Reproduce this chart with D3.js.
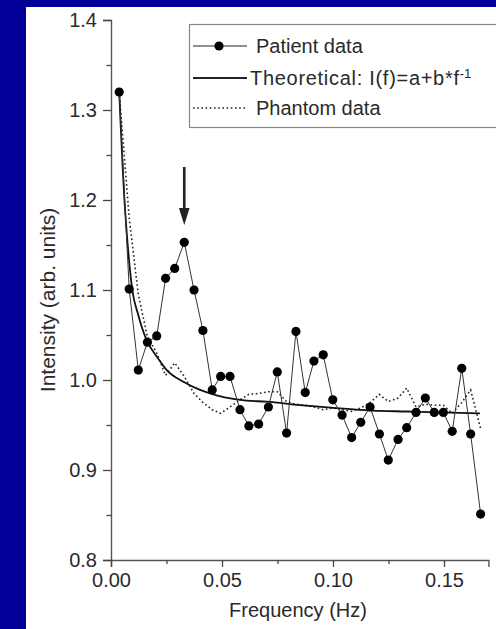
<!DOCTYPE html>
<html>
<head>
<meta charset="utf-8">
<script src="https://cdn.jsdelivr.net/npm/d3@7"></script>
<style>
  html, body { margin: 0; padding: 0; background: #000099; }
  svg { display: block; }
</style>
</head>
<body>
<div id="chart"></div>
<script>
const freq = [0.0037, 0.0082, 0.0123, 0.0164, 0.0206, 0.0246, 0.0287, 0.0330, 0.0374, 0.0414,
              0.0456, 0.0494, 0.0536, 0.0581, 0.0621, 0.0665, 0.0709, 0.0749, 0.0791, 0.0833,
              0.0875, 0.0914, 0.0956, 0.0999, 0.1041, 0.1084, 0.1125, 0.1167, 0.1209, 0.1249,
              0.1293, 0.1332, 0.1374, 0.1416, 0.1456, 0.1497, 0.1537, 0.1580, 0.1620, 0.1665];

const patient = [1.320, 1.101, 1.011, 1.042, 1.049, 1.113, 1.124, 1.153, 1.100, 1.055,
                 0.989, 1.004, 1.004, 0.967, 0.949, 0.951, 0.970, 1.009, 0.941, 1.054,
                 0.986, 1.021, 1.028, 0.978, 0.961, 0.936, 0.953, 0.970, 0.940, 0.911,
                 0.934, 0.947, 0.964, 0.980, 0.964, 0.964, 0.943, 1.013, 0.940, 0.851];

const phantom = [1.320, 1.180, 1.095, 1.048, 1.030, 1.005, 1.019, 1.004, 0.985, 0.975,
                 0.967, 0.963, 0.970, 0.978, 0.984, 0.985, 0.987, 0.987, 0.976, 0.973,
                 0.972, 0.970, 0.967, 0.969, 0.967, 0.965, 0.969, 0.975, 0.984, 0.976,
                 0.980, 0.991, 0.970, 0.973, 0.972, 0.972, 0.963, 0.975, 0.989, 0.946];

// points read along the fitted curve I(f)=a+b/f
const theoryF = [0.0037, 0.0063, 0.0071, 0.0096, 0.0123, 0.0161, 0.0206, 0.0251, 0.0326, 0.0401,
                 0.0476, 0.0551, 0.0611, 0.0701, 0.0851, 0.1001, 0.1180, 0.1332, 0.1482, 0.1662];
const theoryI = [1.320, 1.190, 1.163, 1.100, 1.072, 1.044, 1.026, 1.011, 0.998, 0.989,
                 0.983, 0.979, 0.977, 0.976, 0.972, 0.969, 0.966, 0.965, 0.964, 0.963];

const xTicks = [0, 0.05, 0.10, 0.15];
const xMinor = [0.025, 0.075, 0.125];
const yTicks = [0.8, 0.9, 1.0, 1.1, 1.2, 1.3, 1.4];
const yMinor = [0.85, 0.95, 1.05, 1.15, 1.25, 1.35];

const legendItems = ["Patient data", "Theoretical: I(f)=a+b*f", "Phantom data"];

const width = 496, height = 629;
const font = "'Liberation Sans', Arial, sans-serif";
const ink = "#2a2a2a";

const x = d3.scaleLinear().domain([0, 0.17]).range([111, 488.4]);
const y = d3.scaleLinear().domain([0.8, 1.4]).range([560, 20]);

const svg = d3.select("#chart").append("svg")
    .attr("width", width)
    .attr("height", height)
    .style("font-family", font);

svg.append("rect").attr("width", width).attr("height", height).attr("fill", "#000099");
svg.append("rect")
    .attr("x", 26).attr("y", 7)
    .attr("width", width - 26).attr("height", height - 7)
    .attr("fill", "#fff");

// axes
svg.append("g")
    .attr("transform", `translate(${x(0)},0)`)
    .call(d3.axisLeft(y).tickValues(yTicks).tickFormat(d3.format(".1f")).tickSize(8).tickPadding(6));
svg.append("g")
    .attr("transform", `translate(${x(0)},0)`)
    .call(d3.axisLeft(y).tickValues(yMinor).tickFormat("").tickSize(4.5))
    .call(g => g.select(".domain").remove());

svg.append("g")
    .attr("transform", `translate(0,${y(0.8)})`)
    .call(d3.axisBottom(x).tickValues(xTicks).tickFormat(d3.format(".2f")).tickSize(7).tickPadding(6));
svg.append("g")
    .attr("transform", `translate(0,${y(0.8)})`)
    .call(d3.axisBottom(x).tickValues(xMinor).tickFormat("").tickSize(4))
    .call(g => g.select(".domain").remove());

svg.selectAll(".domain").attr("stroke", "#555").attr("stroke-width", 1.4);
svg.selectAll(".tick line").attr("stroke", "#444").attr("stroke-width", 1.3);
svg.selectAll(".tick text")
    .attr("fill", ink)
    .style("font-size", "20px")
    .style("font-family", font);

// axis titles
svg.append("text")
    .attr("x", 298).attr("y", 617)
    .attr("text-anchor", "middle")
    .attr("fill", ink)
    .style("font-size", "20px")
    .text("Frequency (Hz)");

svg.append("text")
    .attr("transform", "translate(55,300) rotate(-90)")
    .attr("text-anchor", "middle")
    .attr("fill", ink)
    .style("font-size", "21px")
    .text("Intensity (arb. units)");

// curves
const lineGen = d3.line().x(d => x(d[0])).y(d => y(d[1]));

svg.append("path")
    .datum(d3.zip(freq, phantom))
    .attr("fill", "none")
    .attr("stroke", "#222")
    .attr("stroke-width", 1.6)
    .attr("stroke-dasharray", "1.6,2.6")
    .attr("d", lineGen);

svg.append("path")
    .datum(d3.zip(theoryF, theoryI))
    .attr("fill", "none")
    .attr("stroke", "#111")
    .attr("stroke-width", 1.8)
    .attr("d", lineGen.curve(d3.curveMonotoneX));

lineGen.curve(d3.curveLinear);

svg.append("path")
    .datum(d3.zip(freq, patient))
    .attr("fill", "none")
    .attr("stroke", "#333")
    .attr("stroke-width", 1)
    .attr("d", lineGen);

svg.append("g")
    .selectAll("circle")
    .data(d3.zip(freq, patient))
    .join("circle")
    .attr("cx", d => x(d[0]))
    .attr("cy", d => y(d[1]))
    .attr("r", 4.6)
    .attr("fill", "#000");

// arrow pointing at the peak
const peakX = x(freq[7]);
svg.append("line")
    .attr("x1", peakX).attr("x2", peakX)
    .attr("y1", 167).attr("y2", 210)
    .attr("stroke", "#222")
    .attr("stroke-width", 2.6);
svg.append("path")
    .attr("d", `M${peakX - 5.3},208 L${peakX + 5.3},208 L${peakX},225 Z`)
    .attr("fill", "#222");

// legend (box runs off the right edge as in the scan)
const legend = svg.append("g");
legend.append("rect")
    .attr("x", 189.5).attr("y", 24.5)
    .attr("width", 320).attr("height", 103)
    .attr("fill", "#fff")
    .attr("stroke", "#888")
    .attr("stroke-width", 1.2);

const rowY = [46, 78, 108];
const styles = [
    { dash: null, w: 1, marker: true, tx: 256 },
    { dash: null, w: 1.8, marker: false, tx: 250 },
    { dash: "1.6,2.6", w: 1.4, marker: false, tx: 256 }
];

legendItems.forEach((label, i) => {
    legend.append("line")
        .attr("x1", 193).attr("x2", 247)
        .attr("y1", rowY[i]).attr("y2", rowY[i])
        .attr("stroke", "#222")
        .attr("stroke-width", styles[i].w)
        .attr("stroke-dasharray", styles[i].dash);
    if (styles[i].marker) {
        legend.append("circle")
            .attr("cx", 219).attr("cy", rowY[i])
            .attr("r", 4.6).attr("fill", "#000");
    }
    const t = legend.append("text")
        .attr("x", styles[i].tx).attr("y", rowY[i] + 7)
        .attr("fill", ink)
        .style("font-size", "20px");
    if (i === 1) {
        // the scan sets this row a little wider
        t.append("tspan")
            .attr("textLength", 209)
            .attr("lengthAdjust", "spacing")
            .text(label);
        t.append("tspan")
            .attr("dy", -7)
            .style("font-size", "13px")
            .text("-1");
    } else {
        t.text(label);
    }
});
</script>
</body>
</html>
